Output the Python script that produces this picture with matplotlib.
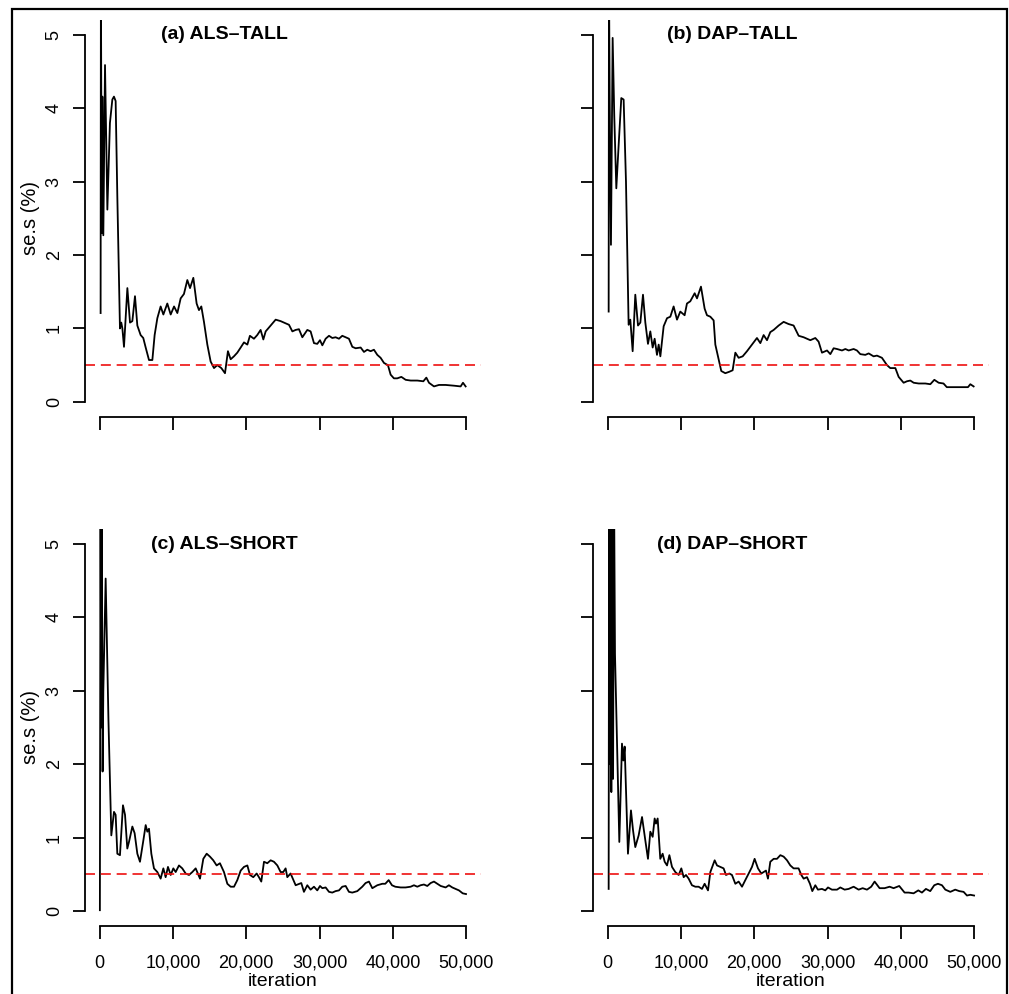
import matplotlib.pyplot as plt
from matplotlib.patches import Rectangle
from matplotlib.ticker import FuncFormatter

plt.rcParams['font.family'] = ['Liberation Sans', 'DejaVu Sans']

# (a) ALS-TALL
a_x = [130, 170, 280, 370, 500, 730, 1050, 1400, 1730, 1950, 2180, 2410, 2770, 2950, 3100,
       3320, 3780, 4140, 4460, 4820, 5140, 5590, 5950, 6280, 6730, 7190, 7500, 7870, 8320,
       8690, 9230, 9690, 10150, 10600, 11050, 11500, 11960, 12330, 12780, 13230, 13550,
       13870, 14230, 14690, 15140, 15600, 16050, 16600, 17100, 17500, 17870, 18320, 18780,
       19240, 19690, 20150, 20500, 21050, 21500, 21960, 22330, 22650, 23330, 24010, 24690,
       25370, 25830, 26290, 26740, 27190, 27650, 28330, 28780, 29240, 29690, 30060, 30380,
       30830, 31290, 31740, 32190, 32650, 33100, 33560, 34010, 34470, 34920, 35610, 36060,
       36510, 36970, 37420, 37880, 38330, 38790, 39330, 39700, 40150, 40600, 41160, 41750,
       42430, 43340, 44160, 44570, 44930, 45610, 46290, 47200, 48340, 49250, 49570, 49930]
a_y = [1.21, 5.8, 2.3, 4.16, 2.27, 4.59, 2.62, 3.8, 4.12, 4.16, 4.1, 2.8, 1.00, 1.08, 1.00,
       0.75, 1.55, 1.08, 1.10, 1.44, 1.04, 0.91, 0.87, 0.74, 0.57, 0.57, 0.91, 1.14, 1.30,
       1.19, 1.34, 1.19, 1.30, 1.21, 1.41, 1.47, 1.66, 1.55, 1.69, 1.34, 1.25, 1.30, 1.09,
       0.78, 0.55, 0.46, 0.50, 0.46, 0.39, 0.69, 0.58, 0.62, 0.67, 0.74, 0.81, 0.78, 0.90,
       0.86, 0.91, 0.98, 0.85, 0.96, 1.04, 1.12, 1.10, 1.07, 1.05, 0.96, 0.98, 0.99, 0.88,
       0.98, 0.96, 0.80, 0.79, 0.84, 0.77, 0.86, 0.90, 0.87, 0.88, 0.86, 0.90, 0.88, 0.86,
       0.75, 0.73, 0.74, 0.68, 0.71, 0.69, 0.71, 0.64, 0.60, 0.53, 0.50, 0.37, 0.32, 0.32,
       0.34, 0.30, 0.29, 0.29, 0.28, 0.33, 0.26, 0.21, 0.23, 0.23, 0.22, 0.21, 0.26, 0.21]

# (b) DAP-TALL
b_x = [136, 180, 270, 450, 680, 900, 1180, 1500, 1860, 2180, 2500, 2860, 3090, 3410, 3770,
       4140, 4460, 4820, 5140, 5500, 5820, 6140, 6410, 6730, 6960, 7190, 7640, 8100, 8550,
       9000, 9460, 9910, 10500, 10820, 11270, 11870, 12190, 12730, 13230, 13550, 14010,
       14460, 14690, 15050, 15500, 16050, 16600, 17050, 17420, 17870, 18420, 19010, 19690,
       20370, 20830, 21280, 21740, 22190, 22650, 23330, 24010, 24690, 25370, 26060, 26740,
       27190, 27650, 28330, 28780, 29240, 29930, 30380, 30830, 31290, 31970, 32430, 32880,
       33560, 34010, 34470, 35150, 35610, 36280, 36740, 37420, 38110, 38560, 39250, 39700,
       40380, 40830, 41290, 41750, 42430, 43340, 44020, 44570, 45160, 45820, 46270, 47180,
       48340, 49160, 49480, 49930]
b_y = [1.23, 5.8, 4.20, 2.14, 4.96, 3.9, 2.91, 3.5, 4.14, 4.12, 3.0, 1.05, 1.12, 0.69, 1.46,
       1.04, 1.08, 1.46, 1.08, 0.79, 0.96, 0.74, 0.86, 0.64, 0.78, 0.62, 1.03, 1.14, 1.16,
       1.30, 1.12, 1.23, 1.18, 1.34, 1.37, 1.48, 1.41, 1.57, 1.27, 1.18, 1.16, 1.11, 0.78,
       0.62, 0.42, 0.39, 0.41, 0.43, 0.67, 0.60, 0.62, 0.69, 0.78, 0.87, 0.80, 0.91, 0.84,
       0.95, 0.98, 1.04, 1.09, 1.06, 1.04, 0.90, 0.88, 0.86, 0.84, 0.87, 0.82, 0.67, 0.70,
       0.65, 0.73, 0.72, 0.70, 0.72, 0.70, 0.72, 0.70, 0.65, 0.64, 0.66, 0.62, 0.63, 0.60,
       0.50, 0.46, 0.46, 0.34, 0.26, 0.28, 0.29, 0.26, 0.25, 0.25, 0.24, 0.30, 0.26, 0.25,
       0.20, 0.20, 0.20, 0.20, 0.24, 0.21]

# (c) ALS-SHORT
c_x = [30, 120, 200, 280, 400, 500, 818, 1200, 1590, 1955, 2180, 2410, 2770, 3180, 3460,
       3770, 4000, 4460, 4770, 5140, 5500, 5960, 6280, 6500, 6730, 7050, 7410, 7870, 8320,
       8690, 9000, 9320, 9690, 10050, 10370, 10820, 11270, 11730, 12190, 12640, 13100,
       13690, 14140, 14600, 15050, 15500, 15960, 16410, 16960, 17420, 17870, 18330, 18780,
       19240, 19690, 20150, 20510, 20960, 21420, 21730, 22050, 22420, 22870, 23330, 23780,
       24240, 24690, 25050, 25370, 25600, 26050, 26740, 27510, 27870, 28330, 28780, 29240,
       29690, 30060, 30380, 30830, 31290, 31740, 32190, 32650, 33100, 33560, 34010, 34470,
       35150, 35830, 36280, 36740, 37200, 37880, 38560, 38970, 39430, 39880, 40330, 41060,
       41740, 42430, 42880, 43340, 43790, 44240, 44700, 45160, 45610, 46070, 46530, 47200,
       47650, 48110, 48560, 49020, 49530, 49980]
c_y = [0.01, 6.0, 2.5, 6.0, 1.90, 3.0, 4.53, 2.6, 1.03, 1.35, 1.31, 0.78, 0.76, 1.44, 1.31,
       0.85, 0.94, 1.15, 1.06, 0.78, 0.67, 0.96, 1.17, 1.08, 1.12, 0.78, 0.58, 0.53, 0.44,
       0.58, 0.46, 0.60, 0.49, 0.58, 0.53, 0.62, 0.58, 0.51, 0.49, 0.53, 0.58, 0.44, 0.71,
       0.78, 0.74, 0.69, 0.62, 0.65, 0.53, 0.37, 0.33, 0.33, 0.42, 0.55, 0.60, 0.62, 0.49,
       0.46, 0.51, 0.46, 0.40, 0.67, 0.65, 0.69, 0.67, 0.62, 0.53, 0.53, 0.58, 0.46, 0.51,
       0.35, 0.38, 0.26, 0.35, 0.29, 0.33, 0.28, 0.34, 0.31, 0.32, 0.26, 0.25, 0.27, 0.28,
       0.33, 0.34, 0.26, 0.25, 0.27, 0.33, 0.38, 0.40, 0.31, 0.35, 0.37, 0.37, 0.42, 0.35,
       0.33, 0.32, 0.32, 0.33, 0.35, 0.33, 0.35, 0.36, 0.34, 0.38, 0.40, 0.37, 0.34, 0.32,
       0.35, 0.32, 0.30, 0.28, 0.24, 0.23]

# (d) DAP-SHORT
d_x = [136, 200, 300, 400, 500, 620, 740, 860, 1000, 1590, 1955, 2140, 2320, 2770, 3180,
       3460, 3770, 4230, 4690, 5140, 5500, 5820, 6140, 6410, 6590, 6820, 7180, 7500, 7780,
       8100, 8420, 8780, 9230, 9690, 10050, 10370, 10690, 11050, 11500, 11960, 12410, 12870,
       13230, 13690, 14010, 14600, 14920, 15370, 15820, 16140, 16600, 16960, 17420, 17870,
       18330, 18780, 19240, 19690, 20050, 20510, 20960, 21280, 21600, 21870, 22190, 22650,
       23100, 23560, 24010, 24470, 24920, 25370, 26050, 26420, 26740, 27190, 27600, 27920,
       28330, 28690, 29240, 29690, 30060, 30600, 31290, 31740, 32330, 32880, 33560, 34240,
       34790, 35380, 35960, 36420, 37100, 37780, 38470, 39010, 39780, 40510, 41060, 41740,
       42380, 42880, 43420, 44010, 44560, 45060, 45610, 46070, 46750, 47420, 47970, 48560,
       49020, 49480, 49990]
d_y = [0.30, 6.0, 2.0, 6.0, 1.62, 6.0, 1.8, 6.0, 3.5, 0.94, 2.28, 2.05, 2.24, 0.78, 1.37,
       1.10, 0.87, 1.03, 1.28, 0.96, 0.71, 1.08, 1.01, 1.26, 1.19, 1.26, 0.71, 0.78, 0.67,
       0.62, 0.76, 0.60, 0.53, 0.49, 0.58, 0.46, 0.49, 0.44, 0.35, 0.33, 0.33, 0.30, 0.37,
       0.28, 0.53, 0.69, 0.62, 0.60, 0.58, 0.49, 0.51, 0.49, 0.37, 0.40, 0.33, 0.42, 0.51,
       0.60, 0.71, 0.58, 0.51, 0.53, 0.55, 0.44, 0.67, 0.71, 0.71, 0.76, 0.74, 0.69, 0.62,
       0.58, 0.58, 0.49, 0.44, 0.46, 0.37, 0.27, 0.35, 0.29, 0.30, 0.28, 0.32, 0.29, 0.29,
       0.32, 0.29, 0.30, 0.33, 0.29, 0.31, 0.29, 0.33, 0.40, 0.31, 0.31, 0.33, 0.31, 0.34,
       0.25, 0.25, 0.24, 0.28, 0.25, 0.30, 0.27, 0.35, 0.37, 0.35, 0.29, 0.26, 0.29, 0.27,
       0.26, 0.21, 0.22, 0.21]

panels = [("(a) ALS\u2013TALL", a_x, a_y), ("(b) DAP\u2013TALL", b_x, b_y),
          ("(c) ALS\u2013SHORT", c_x, c_y), ("(d) DAP\u2013SHORT", d_x, d_y)]
threshold = 0.5
yticks = [0, 1, 2, 3, 4, 5]
xticks = [0, 10000, 20000, 30000, 40000, 50000]

W, H = 1009, 994
fig = plt.figure(figsize=(W / 100, H / 100), dpi=100)

# left/top pixel position of each plot region
pos = [(85, 20.3), (593, 20.3), (85, 529.4), (593, 529.4)]
pw, ph = 395.8, 396.2

for i, (title, xs, ys) in enumerate(panels):
    l, t = pos[i]
    ax = fig.add_axes([l / W, 1 - (t + ph) / H, pw / W, ph / H])
    ax.plot(xs, ys, color='black', lw=1.3)
    ax.axhline(threshold, color='#ee1111', lw=1.2, dashes=(6, 3.5))
    ax.set_xlim(-2000, 52000)
    ax.set_ylim(-0.2, 5.2)
    ax.text(17000, 5.0, title, ha='center', va='center', fontsize=14, fontweight='bold')
    for s in ['top', 'right']:
        ax.spines[s].set_visible(False)
    ax.spines['left'].set_bounds(0, 5)
    ax.spines['bottom'].set_bounds(0, 50000)
    ax.spines['left'].set_linewidth(1.3)
    ax.spines['bottom'].set_linewidth(1.3)
    ax.set_yticks(yticks)
    ax.set_xticks(xticks)
    ax.tick_params(axis='both', direction='out', length=9, width=1.3, labelsize=13)
    ax.tick_params(axis='y', pad=7)
    ax.tick_params(axis='x', pad=12)
    if i % 2 == 0:
        ax.set_yticklabels([str(v) for v in yticks], rotation=90, va='center')
        ax.set_ylabel('se.s (%)', fontsize=14.5, labelpad=4)
    else:
        ax.set_yticklabels([])
    if i >= 2:
        ax.xaxis.set_major_formatter(FuncFormatter(lambda v, p: f'{int(v):,}'))
        ax.set_xlabel('iteration', fontsize=14, labelpad=1)
    else:
        ax.set_xticklabels([])

fig.patches.append(Rectangle((12 / W, -0.02), (1007 - 12) / W, 1.02 - 9 / H,
                             transform=fig.transFigure, fill=False, ec='black', lw=1.6))

fig.savefig('out.png', dpi=100)
